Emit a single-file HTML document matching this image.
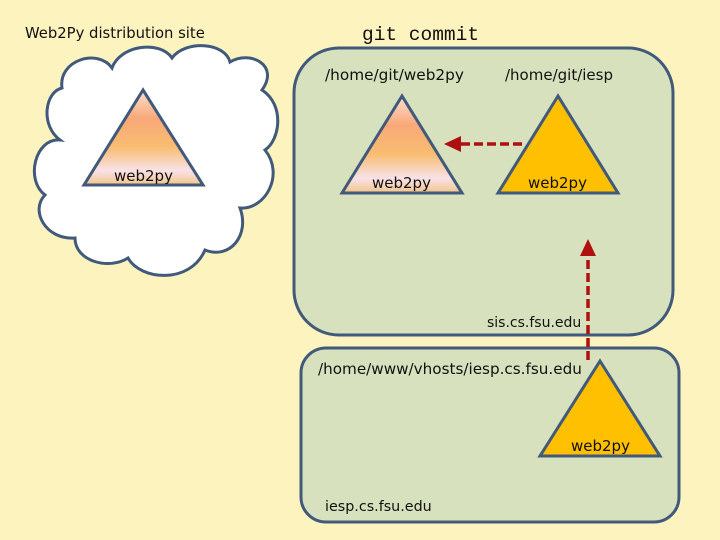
<!DOCTYPE html>
<html><head><style>
body{margin:0;background:#fdf3bf;}
svg{display:block;}
text{font-family:"DejaVu Sans","Liberation Sans",sans-serif;fill:#111;}
</style></head><body>
<svg width="720" height="540" viewBox="0 0 720 540" xmlns="http://www.w3.org/2000/svg">
<defs>
<linearGradient id="g1" x1="0" y1="0" x2="0" y2="1">
<stop offset="0" stop-color="#fbe0d0"/>
<stop offset="0.3" stop-color="#f9a879"/>
<stop offset="0.6" stop-color="#f8bd70"/>
<stop offset="0.85" stop-color="#f8e2e8"/>
<stop offset="1" stop-color="#f3c486"/>
</linearGradient>
</defs>
<rect width="720" height="540" fill="#fdf3bf"/>
<text x="25" y="38" font-size="14.8">Web2Py distribution site</text>
<text x="362" y="40" font-size="19.5" style="font-family:'Liberation Mono',monospace">git commit</text>
<!-- cloud -->
<path d="M62,88 C58,60 98,48 112,68 C120,45 160,40 172,58 C185,40 225,42 230,62 C250,50 280,65 262,90 C285,105 280,140 265,150 C285,175 265,210 240,208 C250,235 230,260 205,250 C190,285 140,280 128,258 C110,270 75,262 75,238 C45,240 30,210 45,195 C25,180 35,138 60,140 C40,125 45,92 62,88 Z" fill="#fff" stroke="#41597a" stroke-width="3"/>
<rect x="294" y="48" width="379" height="287" rx="45" fill="#d8e1bd" stroke="#41597a" stroke-width="3"/>
<rect x="301" y="348" width="378" height="174" rx="25" fill="#d8e1bd" stroke="#41597a" stroke-width="3"/>
<polygon points="143,90 84,185 203,185" fill="url(#g1)" stroke="#41597a" stroke-width="3"/>
<polygon points="402,96 342,193 462,193" fill="url(#g1)" stroke="#41597a" stroke-width="3"/>
<polygon points="558,96 498,193 618,193" fill="#fec000" stroke="#41597a" stroke-width="3"/>
<polygon points="600,361 540,456 660,456" fill="#fec000" stroke="#41597a" stroke-width="3"/>
<text x="114" y="181" font-size="15">web2py</text>
<text x="372" y="188" font-size="15">web2py</text>
<text x="528" y="188" font-size="15">web2py</text>
<text x="571" y="451" font-size="15">web2py</text>
<text x="325" y="80" font-size="15.3">/home/git/web2py</text>
<text x="505" y="80" font-size="15">/home/git/iesp</text>
<text x="487" y="327" font-size="14">sis.cs.fsu.edu</text>
<text x="318" y="374" font-size="15.2">/home/www/vhosts/iesp.cs.fsu.edu</text>
<text x="325" y="511" font-size="14.3">iesp.cs.fsu.edu</text>
<line x1="522" y1="144" x2="458" y2="144" stroke="#b01010" stroke-width="3.5" stroke-dasharray="9,4"/>
<polygon points="444,144 461,136 461,152" fill="#b01010"/>
<line x1="588" y1="360" x2="588" y2="254" stroke="#b01010" stroke-width="3.5" stroke-dasharray="9,4"/>
<polygon points="588,239 580,256 596,256" fill="#b01010"/>
</svg>
</body></html>
